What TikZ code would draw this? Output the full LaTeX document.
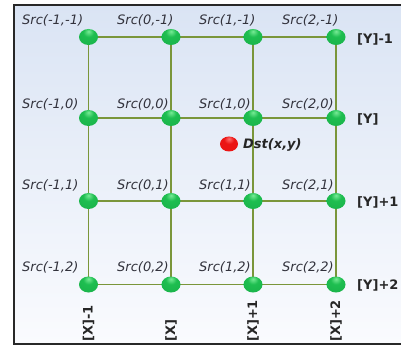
\documentclass[tikz,border=0pt]{standalone}
\usepackage{fontspec}
\setmainfont{DejaVu Sans}
\usetikzlibrary{shapes.geometric}
\pgfdeclarelayer{bg}
\pgfdeclarelayer{lines}
\pgfsetlayers{bg,lines,main}
\definecolor{gridline}{RGB}{122,150,58}
\definecolor{framec}{RGB}{40,40,40}
\definecolor{srctext}{RGB}{50,50,60}
\definecolor{bgtop}{RGB}{218,228,244}
\definecolor{bgbot}{RGB}{250,251,254}
\definecolor{ghi}{RGB}{120,235,150}
\definecolor{gmid}{RGB}{30,190,80}
\definecolor{gdark}{RGB}{5,125,45}
\definecolor{rhi}{RGB}{255,110,110}
\definecolor{rmid}{RGB}{235,20,20}
\definecolor{rdark}{RGB}{170,0,0}
\pgfdeclareradialshading{greenball}{\pgfpoint{0bp}{18bp}}{color(0bp)=(ghi); color(14bp)=(gmid); color(42bp)=(gmid!80!gdark); color(58bp)=(gdark); color(70bp)=(gdark)}
\pgfdeclareradialshading{redball}{\pgfpoint{0bp}{18bp}}{color(0bp)=(rhi); color(14bp)=(rmid); color(45bp)=(rmid); color(60bp)=(rdark); color(70bp)=(rdark)}
\tikzset{
  pt/.style={ellipse, minimum width=19pt, minimum height=16pt, inner sep=0pt, shading=greenball},
  srclabel/.style={anchor=base west, inner sep=0pt, font=\fontsize{13}{15}\selectfont\itshape, text=srctext},
  axislabel/.style={anchor=west, inner sep=0pt, font=\fontsize{13}{15}\selectfont\bfseries, text=black!85},
  gridl/.style={draw=gridline, line width=1.7pt},
}
\begin{document}
\begin{tikzpicture}[x=1pt,y=-1pt]
\useasboundingbox (0,0) rectangle (401,347);
\begin{pgfonlayer}{bg}
\begin{scope}
\clip (0,0) rectangle (401,347);
\shade[top color=bgtop, bottom color=bgbot] (14,5) rectangle (420,344);
\draw[framec, line width=2pt] (14,5) rectangle (420,344);
\end{scope}
\end{pgfonlayer}
\foreach \i/\x/\lx in {0/88.5/22,1/171/117,2/253/199,3/336/282}{
  \foreach \j/\y/\ly in {0/37/24.5,1/118/109,2/201/190,3/284.5/271}{
    \pgfmathtruncatemacro\a{\i-1}
    \pgfmathtruncatemacro\b{\j-1}
    \node[pt] (g\i\j) at (\x,\y) {};
    \node[srclabel] (l\i\j) at (\lx,\ly) {Src(\a,\b)};
  }
}
\begin{pgfonlayer}{lines}
\foreach \j in {0,...,3}{
  \draw[gridl] (g0\j.center) -- (g1\j.center) -- (g2\j.center) -- (g3\j.center);
}
\foreach \i in {0,...,3}{
  \draw[gridl] (g\i0.center) -- (g\i1.center) -- (g\i2.center) -- (g\i3.center);
}
\end{pgfonlayer}
\node[pt, shading=redball, minimum width=18pt, minimum height=15pt] (dst) at (229,144) {};
\node[anchor=west, inner sep=0pt, font=\fontsize{13}{15}\selectfont\bfseries\itshape, text=black!85] (dstlabel) at (243,145) {Dst(x,y)};
\node[axislabel] (ry0) at (357,39) {[Y]-1};
\node[axislabel] (ry1) at (357,119) {[Y]};
\node[axislabel] (ry2) at (357,202) {[Y]+1};
\node[axislabel] (ry3) at (357,285.5) {[Y]+2};
\node[axislabel, rotate=90] (bx0) at (88.5,342) {[X]-1};
\node[axislabel, rotate=90] (bx1) at (171,342) {[X]};
\node[axislabel, rotate=90] (bx2) at (253,342) {[X]+1};
\node[axislabel, rotate=90] (bx3) at (336,342) {[X]+2};
\end{tikzpicture}
\end{document}
